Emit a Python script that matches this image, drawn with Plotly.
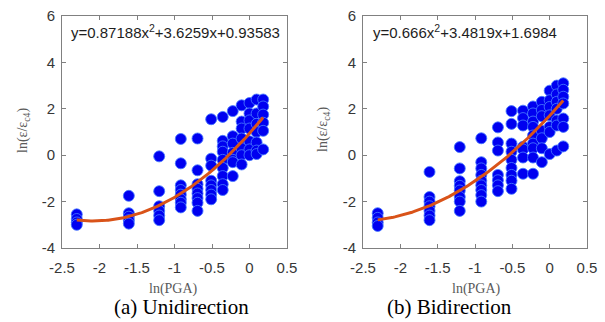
import numpy as np
import plotly.graph_objects as go

# ln(PGA) levels shared by both test series
ln_pga = [-2.303, -1.609, -1.204, -0.916, -0.693, -0.511, -0.357, -0.223, -0.105, 0.0, 0.095, 0.182]

# ln(eps/eps_c4) readings at each ln(PGA) level, unidirectional loading
uni_y = [
    [-2.55, -2.75, -2.9, -3.0],
    [-1.75, -2.5, -2.65, -2.8, -2.95],
    [-0.05, -1.55, -2.2, -2.4, -2.6, -2.8],
    [0.7, -0.35, -1.3, -1.5, -1.7, -1.9, -2.05, -2.25],
    [0.72, -0.65, -1.25, -1.45, -1.65, -1.85, -2.05, -2.4],
    [1.55, -0.15, -0.45, -1.1, -1.3, -1.5, -1.7, -1.9],
    [1.65, 0.62, 0.38, 0.15, -0.2, -0.55, -0.9, -1.25, -1.5],
    [1.9, 0.82, 0.5, 0.1, -0.2, -0.3, -0.9],
    [2.15, 1.45, 1.15, 0.72, 0.3, 0.0, -0.4],
    [2.25, 1.8, 1.5, 1.15, 0.6, 0.25, 0.0],
    [2.4, 1.8, 1.35, 1.0, 0.55, 0.2, 0.05],
    [2.4, 2.1, 1.75, 1.4, 1.05, 0.25],
]

# ln(eps/eps_c4) readings at each ln(PGA) level, bidirectional loading
bi_y = [
    [-2.5, -2.7, -2.9, -3.05],
    [-0.72, -1.8, -2.0, -2.2, -2.4, -2.6, -2.8],
    [0.35, -0.57, -1.12, -1.32, -1.52, -1.8, -2.0, -2.4],
    [0.73, -0.3, -0.57, -0.85, -1.1, -1.3, -1.5, -1.72, -2.0],
    [1.2, 0.55, 0.2, -0.85, -1.08, -1.3, -1.55],
    [1.9, 1.35, 0.5, 0.15, -0.2, -0.55, -0.85, -1.1, -1.45],
    [1.92, 1.6, 1.28, 0.36, 0.25, -0.1, -0.8],
    [2.1, 1.8, 1.45, 1.22, 0.85, 0.5, 0.3, -0.1, -0.8],
    [2.3, 1.95, 1.68, 1.05, 0.73, 0.3, -0.3],
    [2.78, 2.37, 2.08, 1.72, 1.22, 1.0, 0.05],
    [3.0, 2.62, 2.3, 2.0, 1.5, 1.28, 0.2],
    [3.1, 2.82, 2.52, 2.23, 1.58, 1.22, 0.38],
]

# quadratic fit coefficients (a, b, c) of y = a x^2 + b x + c
uni_fit = [0.87188, 3.6259, 0.93583]
bi_fit = [0.666, 3.4819, 1.6984]
uni_label = "y=0.87188x<sup>2</sup>+3.6259x+0.93583"
bi_label = "y=0.666x<sup>2</sup>+3.4819x+1.6984"

x_ticks = [-2.5, -2, -1.5, -1, -0.5, 0, 0.5]
x_tick_text = ["-2.5", "-2", "-1.5", "-1", "-0.5", "0", "0.5"]
y_ticks = [-4, -2, 0, 2, 4, 6]
y_tick_text = ["-4", "-2", "0", "2", "4", "6"]

MARKER_BLUE = "rgb(0,0,240)"
FIT_ORANGE = "rgb(217,83,25)"
AXIS_GREY = "rgb(128,128,128)"


def flatten(levels, groups):
    xs, ys = [], []
    for xv, col in zip(levels, groups):
        xs.extend([xv] * len(col))
        ys.extend(col)
    return xs, ys


fig = go.Figure()

panels = [
    ("x", "y", uni_y, uni_fit),
    ("x2", "y2", bi_y, bi_fit),
]
for xa, ya, groups, coef in panels:
    xs, ys = flatten(ln_pga, groups)
    fig.add_trace(go.Scatter(
        x=xs, y=ys, mode="markers", xaxis=xa, yaxis=ya,
        marker=dict(size=11, color=MARKER_BLUE,
                    line=dict(color="rgba(70,120,255,0.85)", width=1)),
        showlegend=False, hoverinfo="skip",
    ))
    xf = np.linspace(min(ln_pga), max(ln_pga), 120)
    yf = np.polyval(coef, xf)
    fig.add_trace(go.Scatter(
        x=xf, y=yf, mode="lines", xaxis=xa, yaxis=ya,
        line=dict(color=FIT_ORANGE, width=3),
        showlegend=False, hoverinfo="skip",
    ))

W, H = 605, 322
left_dom = [62 / W, 287 / W]
right_dom = [363 / W, 587 / W]
y_dom = [1 - 248 / H, 1 - 16 / H]

axis_common = dict(
    showline=True, linecolor=AXIS_GREY, linewidth=1, mirror="ticks",
    ticks="inside", ticklen=4, tickcolor=AXIS_GREY, showgrid=False,
    zeroline=False, automargin=False,
    tickfont=dict(family="Liberation Sans, Arial, sans-serif", size=15, color="rgb(55,55,55)"),
)
x_common = dict(range=[-2.5, 0.5], tickvals=x_ticks, ticktext=x_tick_text,
                ticklabelstandoff=6, **axis_common)
y_common = dict(domain=y_dom, range=[-4, 6], tickvals=y_ticks, ticktext=y_tick_text,
                ticklabelstandoff=3, **axis_common)

fig.update_layout(
    template="none",
    width=W, height=H,
    margin=dict(l=0, r=0, t=0, b=0),
    paper_bgcolor="white", plot_bgcolor="white",
    xaxis=dict(domain=left_dom, anchor="y", **x_common),
    yaxis=dict(anchor="x", **y_common),
    xaxis2=dict(domain=right_dom, anchor="y2", **x_common),
    yaxis2=dict(anchor="x2", **y_common),
)

serif = "Liberation Serif, Times New Roman, serif"
sans = "Liberation Sans, Arial, sans-serif"


def note(text, px, py, font, angle=0):
    return dict(text=text, xref="paper", yref="paper", x=px / W, y=1 - py / H,
                xanchor="center", yanchor="middle", textangle=angle,
                showarrow=False, font=font)


ann = []
# fit equations inside each panel
eq_font = dict(family=sans, size=15, color="rgb(30,30,30)")
ann.append(note(uni_label, 175, 31, eq_font))
ann.append(note(bi_label, 465, 31, eq_font))
# axis titles
ytitle_font = dict(family=serif, size=14, color="rgb(90,90,90)")
for cx in (23, 323):
    ann.append(note("ln(\u03b5/\u03b5<sub>c4</sub>)", cx, 130, ytitle_font, angle=-90))
for cx in (174, 476):
    ann.append(note("ln(PGA)", cx, 289, ytitle_font))
# panel captions
cap_font = dict(family=serif, size=21, color="black")
ann.append(note("(a) Unidirection", 181, 307, cap_font))
ann.append(note("(b) Bidirection", 449, 307, cap_font))
fig.update_layout(annotations=ann)

fig.write_html("out.html")
